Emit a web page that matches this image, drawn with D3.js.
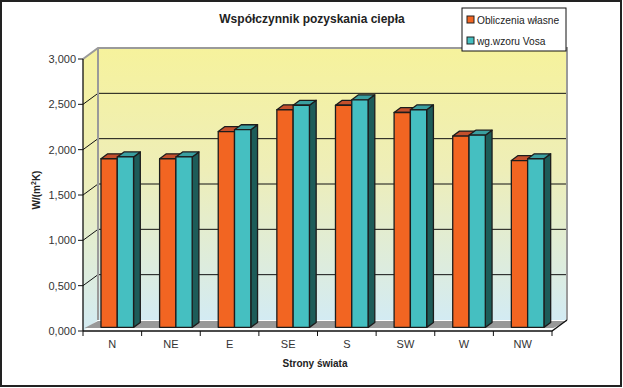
<!DOCTYPE html>
<html>
<head>
<meta charset="utf-8">
<script src="https://cdn.jsdelivr.net/npm/d3@7"></script>
<style>
  body { margin: 0; background: #fff; }
  text { font-family: "Liberation Sans", Arial, sans-serif; }
</style>
</head>
<body>
<div id="chart"></div>
<script>
// chart data
const categories = ["N", "NE", "E", "SE", "S", "SW", "W", "NW"];
const seriesNames = ["Obliczenia własne", "wg.wzoru Vosa"];
const obliczenia = [1.86, 1.86, 2.16, 2.40, 2.45, 2.37, 2.11, 1.84];
const vosa = [1.88, 1.88, 2.18, 2.45, 2.51, 2.40, 2.12, 1.86];
const yTicks = [0, 0.5, 1, 1.5, 2, 2.5, 3];

const W = 623, H = 388;
const DX = 15, DY = 11;       // depth offset of back wall
const Z0 = 0.33, Z1 = 0.78;   // bar depth

const colors = [
    {front: "#f26522", top: "#c4502c", side: "#8a3a1c"},
    {front: "#45bfc1", top: "#3a9fa0", side: "#1d5c59"}
];

const svg = d3.select("#chart").append("svg")
    .attr("width", W)
    .attr("height", H);

// outer frame
svg.append("rect")
    .attr("x", 1).attr("y", 1)
    .attr("width", W - 3).attr("height", H - 3)
    .attr("fill", "white")
    .attr("stroke", "#222")
    .attr("stroke-width", 2);

const x = d3.scaleBand().domain(categories).range([83, 552]);
const xs = d3.scaleBand().domain([0, 1]).range([0, x.bandwidth()]).paddingOuter(0.8);
const y = d3.scaleLinear().domain([0, 3]).range([331, 59]);

const proj = (px, py, z) => [px + z * DX, py - z * DY];
const poly = pts => pts.map(p => p.join(",")).join(" ");

// gradient for walls
const defs = svg.append("defs");
const grad = defs.append("linearGradient")
    .attr("id", "wall")
    .attr("x1", 0).attr("y1", 0).attr("x2", 0).attr("y2", 1);
grad.append("stop").attr("offset", "0%").attr("stop-color", "#f6f29c");
grad.append("stop").attr("offset", "45%").attr("stop-color", "#eeeeb8");
grad.append("stop").attr("offset", "100%").attr("stop-color", "#d3ebf3");

const x0 = x.range()[0], x1 = x.range()[1];
const yTop = y(3), yBot = y(0);

// side wall (left)
svg.append("polygon")
    .attr("points", poly([[x0, yTop], proj(x0, yTop, 1), proj(x0, yBot, 1), [x0, yBot]]))
    .attr("fill", "url(#wall)");

// back wall
svg.append("polygon")
    .attr("points", poly([proj(x0, yTop, 1), proj(x1, yTop, 1), proj(x1, yBot, 1), proj(x0, yBot, 1)]))
    .attr("fill", "url(#wall)");

// gridlines on back wall + diagonal on side wall
yTicks.filter(d => d > 0 && d < 3).forEach(d => {
    svg.append("line")
        .attr("x1", proj(x0, y(d), 1)[0]).attr("y1", proj(x0, y(d), 1)[1])
        .attr("x2", proj(x1, y(d), 1)[0]).attr("y2", proj(x1, y(d), 1)[1])
        .attr("stroke", "#111").attr("stroke-width", 1);
    svg.append("line")
        .attr("x1", x0).attr("y1", y(d))
        .attr("x2", proj(x0, y(d), 1)[0]).attr("y2", proj(x0, y(d), 1)[1])
        .attr("stroke", "#111").attr("stroke-width", 1);
});

// wall edges
svg.append("polyline")
    .attr("points", poly([[x0, yTop], proj(x0, yTop, 1), proj(x1, yTop, 1), proj(x1, yBot, 1)]))
    .attr("fill", "none").attr("stroke", "#9a9a9a").attr("stroke-width", 2);
svg.append("line")
    .attr("x1", proj(x0, yTop, 1)[0]).attr("y1", proj(x0, yTop, 1)[1])
    .attr("x2", proj(x0, yBot, 1)[0]).attr("y2", proj(x0, yBot, 1)[1])
    .attr("stroke", "#9a9a9a").attr("stroke-width", 2);

// floor
svg.append("polygon")
    .attr("points", poly([proj(x0, yBot - 2, 0.1), proj(x1, yBot - 2, 0.1), proj(x1, yBot + 1, 1), proj(x0, yBot + 1, 1)]))
    .attr("fill", "#999");

// bars
const bars = svg.append("g").attr("class", "bars");
categories.forEach((c, i) => {
    [obliczenia[i], vosa[i]].forEach((v, s) => {
        const bx0 = x(c) + xs(s), bx1 = bx0 + xs.bandwidth();
        const yt = y(v), yb = y(0);
        const g = bars.append("g");
        const st = {stroke: "#1c1c1c", "stroke-width": 1.3, "stroke-linejoin": "round"};
        const side = g.append("polygon")
            .attr("points", poly([proj(bx1, yt, Z0), proj(bx1, yt, Z1), proj(bx1, yb, Z1), proj(bx1, yb, Z0)]))
            .attr("fill", colors[s].side);
        const top = g.append("polygon")
            .attr("points", poly([proj(bx0, yt, Z0), proj(bx0, yt, Z1), proj(bx1, yt, Z1), proj(bx1, yt, Z0)]))
            .attr("fill", colors[s].top);
        const front = g.append("polygon")
            .attr("points", poly([proj(bx0, yt, Z0), proj(bx1, yt, Z0), proj(bx1, yb, Z0), proj(bx0, yb, Z0)]))
            .attr("fill", colors[s].front);
        [side, top, front].forEach(p => Object.entries(st).forEach(([k, val]) => p.attr(k, val)));
    });
});

// axes
svg.append("line")
    .attr("x1", x0).attr("y1", yTop).attr("x2", x0).attr("y2", yBot)
    .attr("stroke", "#111").attr("stroke-width", 1.3);
svg.append("polyline")
    .attr("points", poly([[x0, yBot], [x1, yBot], proj(x1, yBot, 1)]))
    .attr("fill", "none").attr("stroke", "#111").attr("stroke-width", 1.3);

const fmt = d => d3.format(".3f")(d).replace(".", ",");

yTicks.forEach(d => {
    svg.append("line")
        .attr("x1", x0 - 5).attr("x2", x0)
        .attr("y1", y(d)).attr("y2", y(d))
        .attr("stroke", "#111");
    svg.append("text")
        .attr("x", x0 - 7).attr("y", y(d) + 4)
        .attr("text-anchor", "end")
        .attr("font-size", 11)
        .attr("fill", "#333")
        .text(fmt(d));
});

// x ticks at category boundaries
categories.concat([null]).forEach((c, i) => {
    const tx = c ? x(c) : x1;
    svg.append("line")
        .attr("x1", tx).attr("x2", tx)
        .attr("y1", yBot).attr("y2", yBot + 5)
        .attr("stroke", "#111");
});
categories.forEach(c => {
    svg.append("text")
        .attr("x", x(c) + x.bandwidth() / 2)
        .attr("y", 348)
        .attr("text-anchor", "middle")
        .attr("font-size", 11)
        .attr("fill", "#333")
        .text(c);
});

// titles
svg.append("text")
    .attr("x", 312).attr("y", 23)
    .attr("text-anchor", "middle")
    .attr("font-size", 12)
    .attr("font-weight", "bold")
    .attr("fill", "#222")
    .text("Współczynnik pozyskania ciepła");

svg.append("text")
    .attr("x", 315).attr("y", 367)
    .attr("text-anchor", "middle")
    .attr("font-size", 10)
    .attr("font-weight", "bold")
    .attr("fill", "#222")
    .text("Strony świata");

const yl = svg.append("text")
    .attr("transform", "translate(40,190) rotate(-90)")
    .attr("text-anchor", "middle")
    .attr("font-size", 10)
    .attr("font-weight", "bold")
    .attr("fill", "#222");
yl.append("tspan").text("W/(m");
yl.append("tspan").attr("font-size", 7).attr("dy", -4).text("2");
yl.append("tspan").attr("dy", 4).text("K)");

// legend
const legend = svg.append("g").attr("transform", "translate(462,8)");
legend.append("rect")
    .attr("width", 104).attr("height", 43)
    .attr("fill", "white").attr("stroke", "#111");
seriesNames.forEach((name, i) => {
    legend.append("rect")
        .attr("x", 5).attr("y", 8 + i * 21)
        .attr("width", 7).attr("height", 7)
        .attr("fill", colors[i].front)
        .attr("stroke", "#222");
    legend.append("text")
        .attr("x", 15).attr("y", 15.5 + i * 21)
        .attr("font-size", 10.2)
        .attr("fill", "#222")
        .text(name);
});
</script>
</body>
</html>
